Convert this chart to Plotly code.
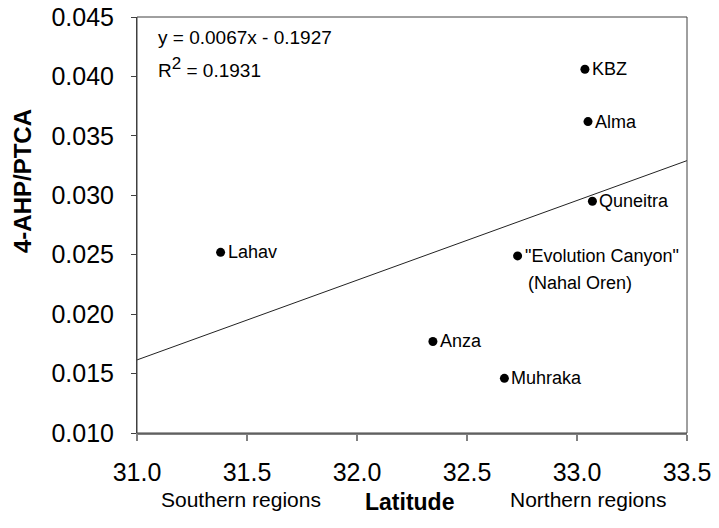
import numpy as np
import plotly.graph_objects as go

# Data
sites = ["KBZ", "Alma", "Quneitra", "Lahav", "\"Evolution Canyon\"", "Anza", "Muhraka"]
latitude = [33.036, 33.05, 33.07, 31.38, 32.73, 32.345, 32.67]
ratio = [0.0406, 0.0362, 0.0295, 0.0252, 0.0249, 0.0177, 0.0146]
sub_labels = ["", "", "", "", "(Nahal Oren)", "", ""]

x_ticks = [31.0, 31.5, 32.0, 32.5, 33.0, 33.5]
y_ticks = [0.010, 0.015, 0.020, 0.025, 0.030, 0.035, 0.040, 0.045]
x_range = [31.0, 33.5]
y_range = [0.010, 0.045]

equation_text = "y = 0.0067x - 0.1927"
r2_text = "R<sup><span style='font-size:17px'>2</span></sup> = 0.1931"

FONT = "Liberation Sans, Arial, sans-serif"

# Linear trendline fitted to the data
slope, intercept = np.polyfit(latitude, ratio, 1)
tx = np.array(x_range)
ty = slope * tx + intercept

fig = go.Figure()
fig.add_trace(go.Scatter(x=tx, y=ty, mode="lines",
                         line=dict(color="#222222", width=1),
                         hoverinfo="skip", showlegend=False))
fig.add_trace(go.Scatter(x=latitude, y=ratio, mode="markers",
                         marker=dict(color="black", size=9),
                         showlegend=False))

for s, x, y, sub in zip(sites, latitude, ratio, sub_labels):
    fig.add_annotation(x=x, y=y, text=s, showarrow=False, xanchor="left",
                       yanchor="middle", xshift=5,
                       font=dict(family=FONT, size=18, color="black"))
    if sub:
        fig.add_annotation(x=x, y=y, text=sub, showarrow=False, xanchor="left",
                           yanchor="middle", xshift=8, yshift=-27,
                           font=dict(family=FONT, size=18, color="black"))

# Equation and R^2
fig.add_annotation(xref="paper", yref="paper", x=0.034, y=1 - 20 / 416,
                   text=equation_text, showarrow=False, xanchor="left",
                   yanchor="middle", font=dict(family=FONT, size=19, color="black"))
fig.add_annotation(xref="paper", yref="paper", x=0.034, y=1 - 50 / 416,
                   text=r2_text, showarrow=False, xanchor="left",
                   yanchor="middle", font=dict(family=FONT, size=19, color="black"))

# Axis titles and region labels
fig.add_annotation(xref="paper", yref="paper", x=(409 - 137) / 550, y=-(502 - 433) / 416,
                   text="<b>Latitude</b>", showarrow=False, xanchor="center",
                   yanchor="middle", font=dict(family=FONT, size=23, color="black"))
fig.add_annotation(xref="paper", yref="paper", x=(241 - 137) / 550, y=-(499 - 433) / 416,
                   text="Southern regions", showarrow=False, xanchor="center",
                   yanchor="middle", font=dict(family=FONT, size=21, color="black"))
fig.add_annotation(xref="paper", yref="paper", x=(588 - 137) / 550, y=-(499 - 433) / 416,
                   text="Northern regions", showarrow=False, xanchor="center",
                   yanchor="middle", font=dict(family=FONT, size=21, color="black"))
fig.add_annotation(xref="paper", yref="paper", x=-(137 - 22) / 550, y=(433 - 181) / 416,
                   text="<b>4-AHP/PTCA</b>", showarrow=False, textangle=-90,
                   xanchor="center", yanchor="middle",
                   font=dict(family=FONT, size=24, color="black"))

# Frame (top/right thin border)
fig.add_shape(type="rect", xref="paper", yref="paper", x0=0, y0=0, x1=1, y1=1,
              line=dict(color="#404040", width=1), layer="above")

fig.update_layout(
    width=719, height=528,
    margin=dict(l=137, r=32, t=17, b=95),
    paper_bgcolor="white", plot_bgcolor="white",
    font=dict(family=FONT, color="black"),
    showlegend=False,
)
fig.update_xaxes(range=x_range, tickvals=x_ticks, tickformat=".1f",
                 showgrid=False, zeroline=False, automargin=False,
                 showline=True, linecolor="#808080", linewidth=2,
                 ticks="outside", ticklen=6, tickcolor="#808080", tickwidth=1.5,
                 tickfont=dict(family=FONT, size=25, color="black"),
                 ticklabelstandoff=10, ticklabeloverflow="allow")
fig.update_yaxes(range=y_range, tickvals=y_ticks, tickformat=".3f",
                 showgrid=False, zeroline=False, automargin=False,
                 showline=True, linecolor="#404040", linewidth=1,
                 ticks="outside", ticklen=5, tickcolor="#404040", tickwidth=1,
                 tickfont=dict(family=FONT, size=25, color="black"),
                 ticklabelstandoff=12, ticklabeloverflow="allow")

# Remove the default 8px page margin so the figure sits at the window origin
fig.write_html("out.html", config={"displayModeBar": False},
               post_script="document.body.style.margin='0';")
